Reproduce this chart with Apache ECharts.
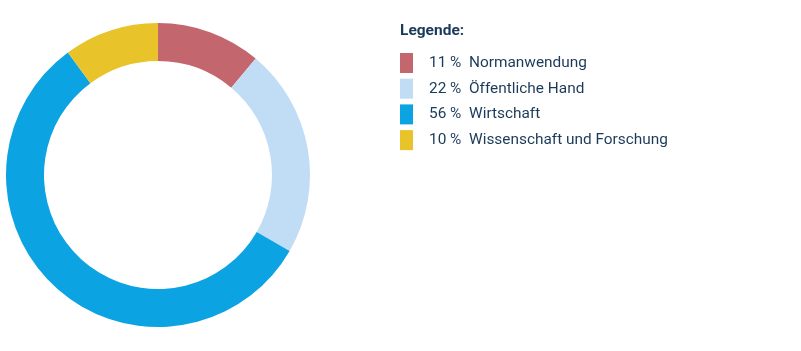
<!DOCTYPE html>
<html>
<head>
<meta charset="utf-8">
<script src="https://cdn.jsdelivr.net/npm/echarts@6/dist/echarts.min.js"></script>
<style>
  html, body { margin: 0; padding: 0; background: #fff; }
  #chart { width: 801px; height: 351px; }
</style>
</head>
<body>
<div id="chart"></div>
<script>
var names = ['Normanwendung', 'Öffentliche Hand', 'Wirtschaft', 'Wissenschaft und Forschung'];
var shares = [11, 22, 56, 10];
var colors = ['#c4666e', '#c1ddf6', '#0ca3e3', '#e9c32a'];

var txt = '#1b3a5a';
var chart = echarts.init(document.getElementById('chart'));

var pieData = names.map(function (n, i) {
    return { name: n, value: shares[i], itemStyle: { color: colors[i] } };
});

chart.setOption({
    animation: false,
    title: {
        text: 'Legende:',
        left: 395,
        top: 18,
        textStyle: { fontFamily: 'Roboto', fontSize: 15.5, fontWeight: 'bold', color: txt }
    },
    legend: {
        orient: 'vertical',
        left: 395,
        top: 48,
        itemWidth: 13,
        itemHeight: 20,
        itemGap: 5.7,
        icon: 'rect',
        selectedMode: false,
        data: names,
        formatter: function (name) {
            var i = names.indexOf(name);
            return '{p|' + shares[i] + ' %}{n|' + name + '}';
        },
        textStyle: {
            fontFamily: 'Roboto',
            fontSize: 15.4,
            color: txt,
            rich: {
                p: { fontFamily: 'Roboto', fontSize: 15.4, color: txt, width: 40, padding: [0, 0, 0, 11] },
                n: { fontFamily: 'Roboto', fontSize: 15.4, color: txt }
            }
        }
    },
    series: [{
        type: 'pie',
        center: [158, 175],
        radius: [114, 152],
        startAngle: 90,
        clockwise: true,
        label: { show: false },
        labelLine: { show: false },
        emphasis: { disabled: true },
        data: pieData
    }]
});
</script>
</body>
</html>
